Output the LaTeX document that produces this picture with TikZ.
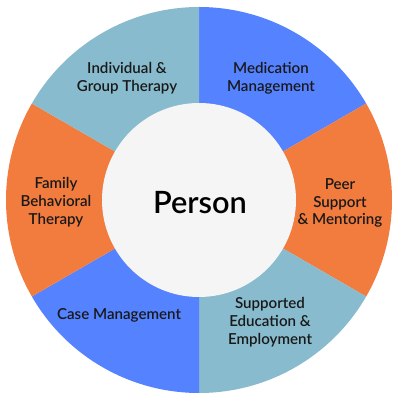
\documentclass[tikz,border=0pt]{standalone}
\usepackage{fontspec}
\setmainfont{Lato}
\newfontfamily\wheelfont{Lato Semibold}
\usepackage{xcolor}
\usetikzlibrary{positioning}
\definecolor{segTeal}{HTML}{87BBCD}
\definecolor{segBlue}{HTML}{5582FF}
\definecolor{segOrange}{HTML}{F27B3E}
\definecolor{coreGray}{HTML}{F5F5F5}
\tikzset{segLabel/.style={align=center, font=\wheelfont\fontsize{8.6}{10.2}\selectfont, text=black!90, inner sep=0pt}}
\tikzset{coreBox/.style={circle, minimum size=3.88cm, fill=coreGray, inner sep=0pt}}
\tikzset{coreLabel/.style={inner sep=0pt, font=\wheelfont\fontsize{17.5}{18}\selectfont}}

\begin{document}
\begin{tikzpicture}

\useasboundingbox (-3.98,-4.0) rectangle (4.02,4.0);

\fill[segBlue] (0,0) -- (90:3.86) arc (90:30:3.86) -- cycle;
\fill[segOrange] (0,0) -- (30:3.86) arc (30:-30:3.86) -- cycle;
\fill[segTeal] (0,0) -- (-30:3.86) arc (-30:-90:3.86) -- cycle;
\fill[segBlue] (0,0) -- (-90:3.86) arc (-90:-150:3.86) -- cycle;
\fill[segOrange] (0,0) -- (-150:3.86) arc (-150:-210:3.86) -- cycle;
\fill[segTeal] (0,0) -- (150:3.86) arc (150:90:3.86) -- cycle;

\node[coreBox] (person) at (0,0) {};
\node[coreLabel] (personText) at (0.02,-0.06) {Person};

\node[segLabel] (indiv) at (-1.44, 2.44) {Individual \&\\Group Therapy};
\node[segLabel] (medic) at (1.44, 2.44) {Medication\\Management};
\node[segLabel] (peer) at (2.82, -0.06) {Peer\\Support\\\& Mentoring};
\node[segLabel] (supported) at (1.42, -2.44) {Supported\\Education \&\\Employment};
\node[segLabel] (casemgmt) at (-1.6, -2.3) {Case Management};
\node[segLabel] (family) at (-2.86, -0.04) {Family\\Behavioral\\Therapy};

\end{tikzpicture}
\end{document}
